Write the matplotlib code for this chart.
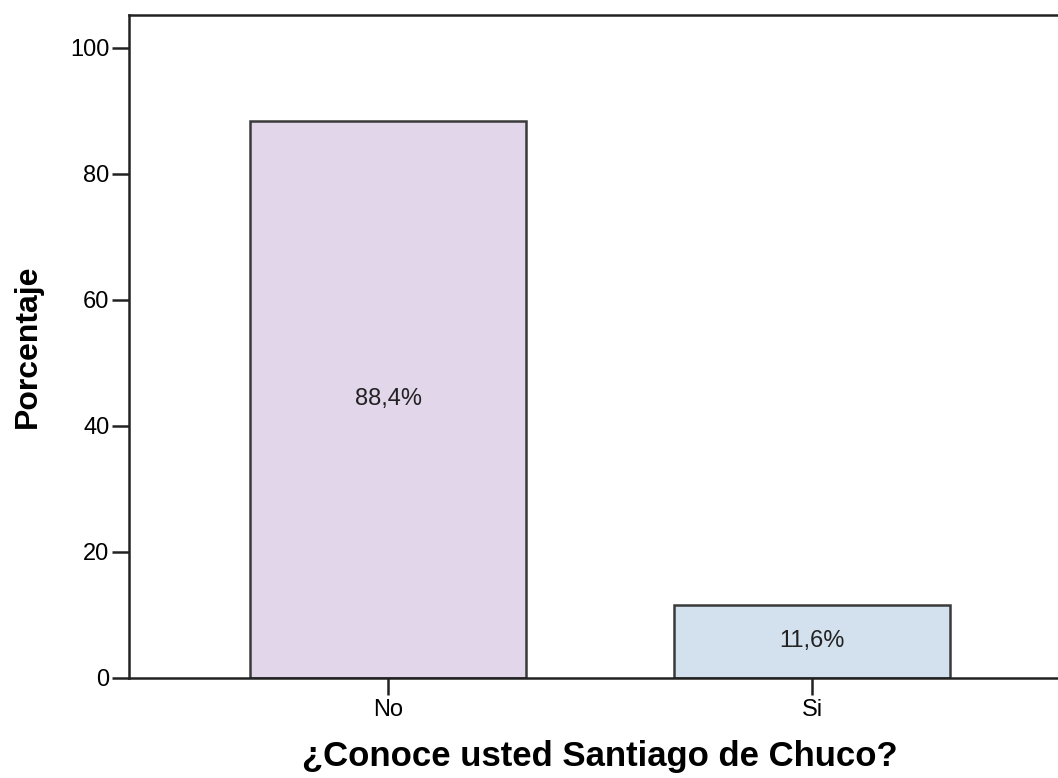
import matplotlib
matplotlib.use('Agg')
import matplotlib.pyplot as plt

categories = ['No', 'Si']
percentages = [88.4, 11.6]
bar_labels = ['88,4%', '11,6%']
colors = ['#E2D6EA', '#D3E0EE']

plt.rcParams['font.family'] = ['Liberation Sans', 'DejaVu Sans']

fig = plt.figure(figsize=(10.58, 7.78), dpi=100)
ax = fig.add_axes([129 / 1058, 100 / 778, 942 / 1058, 663 / 778])

x = range(len(categories))
bars = ax.bar(x, percentages, width=0.65, color=colors, edgecolor='#3a3a3a', linewidth=1.8)

for xi, val, lab in zip(x, percentages, bar_labels):
    ax.text(xi, val / 2, lab, ha='center', va='center', fontsize=17, color='#222222')

ax.set_xlim(-0.611, 1.611)
ax.set_ylim(0, 105.2)
ax.set_xticks(list(x))
ax.set_xticklabels(categories, fontsize=17)
ax.set_yticks([0, 20, 40, 60, 80, 100])
ax.tick_params(axis='both', direction='out', length=12, width=1.8, color='#222222', labelsize=17, pad=2)
ax.tick_params(axis='x', pad=3)

for s in ax.spines.values():
    s.set_linewidth(1.8)
    s.set_color('#222222')

ax.set_ylabel('Porcentaje', fontsize=23, fontweight='bold', va='center')
ax.yaxis.set_label_coords(-0.107, 0.5)
ax.set_xlabel('¿Conoce usted Santiago de Chuco?', fontsize=25, fontweight='bold', va='center')
ax.xaxis.set_label_coords(0.5, -0.119)

fig.savefig('out.png', dpi=100)
